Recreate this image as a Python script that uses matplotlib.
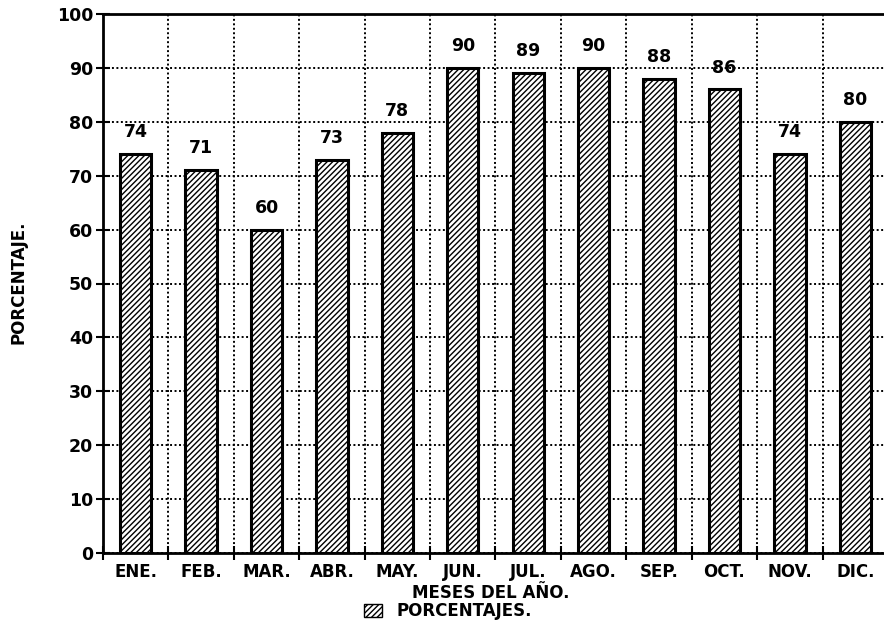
import matplotlib.pyplot as plt
import matplotlib.patches as mpatches
import numpy as np

plt.rcParams['font.family'] = ['DejaVu Sans']
plt.rcParams['font.weight'] = 'bold'
plt.rcParams['hatch.linewidth'] = 1.0

meses = ['ENE.', 'FEB.', 'MAR.', 'ABR.', 'MAY.', 'JUN.',
         'JUL.', 'AGO.', 'SEP.', 'OCT.', 'NOV.', 'DIC.']
porcentajes = [74, 71, 60, 73, 78, 90, 89, 90, 88, 86, 74, 80]

fig = plt.figure(figsize=(8.84, 6.3), dpi=100)
ax = fig.add_axes([103/884, 77/630, 785/884, 539/630])

x = np.arange(len(meses))
ax.bar(x, porcentajes, width=0.48, color='white', edgecolor='black',
       linewidth=2.2, hatch='//////', zorder=3)

# etiqueta con el valor encima de cada barra
for xi, v in zip(x, porcentajes):
    ax.text(xi, v + 2.4, str(v), ha='center', va='bottom',
            fontsize=12.5, fontweight='bold', zorder=4)

ax.set_xlim(-0.5, len(meses) - 0.5)
ax.set_ylim(0, 100)
ax.set_yticks(np.arange(0, 101, 10))
ax.set_xticks(x)
ax.set_xticklabels(meses, fontsize=12, fontweight='bold')
ax.set_xticks(np.arange(-0.5, len(meses), 1), minor=True)
ax.tick_params(axis='x', which='major', length=0, pad=7)
ax.tick_params(axis='x', which='minor', direction='inout', length=10, width=1.5)
ax.tick_params(axis='y', direction='inout', length=10, width=1.5, labelsize=12.5, pad=2)
for lab in ax.get_yticklabels():
    lab.set_fontweight('bold')

puntos = (0, (1, 1.3))
ax.grid(True, axis='y', which='major', linestyle=puntos, linewidth=1.4, color='black', zorder=1)
ax.grid(True, axis='x', which='minor', linestyle=puntos, linewidth=1.4, color='black', zorder=1)

for s in ['left', 'top', 'bottom']:
    ax.spines[s].set_linewidth(2)
ax.spines['right'].set_visible(False)

ax.set_xlabel('MESES DEL AÑO.', fontsize=12, fontweight='bold')
ax.set_ylabel('PORCENTAJE.', fontsize=12, fontweight='bold')
ax.xaxis.label.set_verticalalignment('center')
ax.yaxis.label.set_verticalalignment('center')
ax.xaxis.set_label_coords(0.494, -0.075)
ax.yaxis.set_label_coords(-0.108, 0.503)

leg_patch = mpatches.Patch(facecolor='white', edgecolor='black', hatch='//////',
                           label='PORCENTAJES.')
fig.legend(handles=[leg_patch], loc='center', bbox_to_anchor=(448/884, 1 - 611/630),
           frameon=False, fontsize=12, handlelength=1.1, handleheight=0.8,
           handletextpad=0.9, borderpad=0)

fig.savefig('out.png', dpi=100)
